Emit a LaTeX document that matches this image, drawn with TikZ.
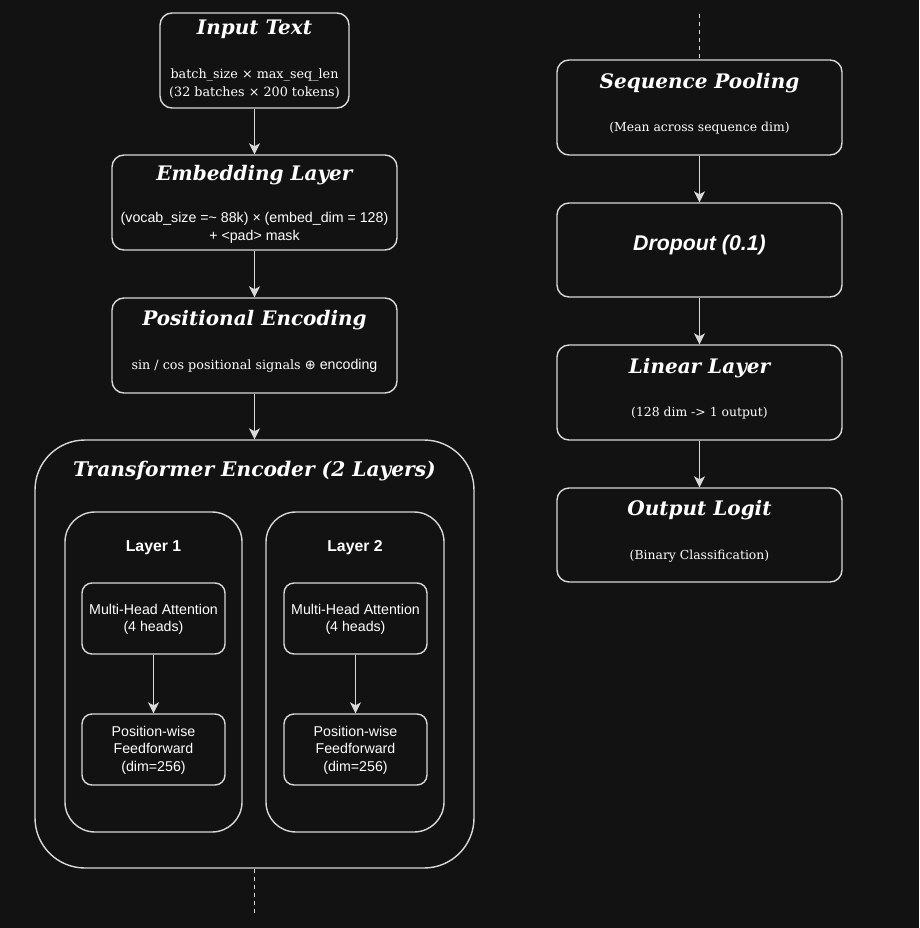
\documentclass[tikz,border=0pt]{standalone}
\usepackage{fontspec}
\setmainfont{DejaVu Serif}
\setsansfont{Liberation Sans}
\newfontfamily\symfont{DejaVu Sans}
\usetikzlibrary{arrows.meta}
\definecolor{bg}{HTML}{121212}
\definecolor{ln}{HTML}{D8D8D8}
\tikzset{
  box/.style={draw=ln, line width=1.4pt, rounded corners=12pt, fill=bg, inner sep=0pt},
  ttl/.style={text=white, inner sep=0pt, font=\fontsize{20}{24}\selectfont\bfseries\itshape},
  sub/.style={text=white, inner sep=0pt, align=center, font=\fontsize{12.75}{18}\selectfont},
  rsub/.style={text=white, inner sep=0pt, align=center, font=\fontsize{12.4}{15}\selectfont},
  ssub/.style={text=white, inner sep=0pt, align=center, font=\sffamily\fontsize{14.2}{17.5}\selectfont},
  lay/.style={text=white, inner sep=0pt, font=\sffamily\bfseries\fontsize{15.8}{18}\selectfont},
  arr/.style={draw=ln, line width=1.4pt, -{Stealth[length=11pt,width=11pt,inset=3pt]}},
  dsh/.style={draw=ln, line width=1.4pt, dash pattern=on 4pt off 4pt}
}
\begin{document}
\begin{tikzpicture}[x=1pt,y=-1pt]
\fill[bg] (0,0) rectangle (919,928);
\useasboundingbox (0,0) rectangle (919,928);
% left column
\node[box, minimum width=189pt, minimum height=95pt] (input) at (254.5,60.5) {};
\node[ttl] (inputT) at (254.5,29) {Input Text};
\node[sub] (inputS) at (254.5,84) {batch\_size × max\_seq\_len\\(32 batches × 200 tokens)};

\node[box, minimum width=285pt, minimum height=95pt] (emb) at (254.5,202.5) {};
\node[ttl] (embT) at (254.5,175) {Embedding Layer};
\node[ssub] (embS) at (254.5,228) {(vocab\_size =\textasciitilde{} 88k) × (embed\_dim = 128)\\+ <pad> mask};

\node[box, minimum width=285pt, minimum height=95pt] (pos) at (254.5,345.5) {};
\node[ttl] (posT) at (254.5,320) {Positional Encoding};
\node[sub] (posS) at (254.5,366) {sin / cos positional signals {\symfont\fontsize{13}{14}\selectfont ⊕} {\sffamily\fontsize{14.2}{17}\selectfont encoding}};

\node[box, rounded corners=50pt, minimum width=439pt, minimum height=428pt] (trans) at (254.5,654) {};
\node[ttl, font=\fontsize{20.2}{24}\selectfont\bfseries\itshape] (transT) at (254.5,471) {Transformer Encoder (2 Layers)};

\node[box, rounded corners=30pt, minimum width=177pt, minimum height=320pt] (l1) at (153.5,672) {};
\node[lay] (l1T) at (153.5,548) {Layer 1};
\node[box, rounded corners=10pt, minimum width=143pt, minimum height=71pt] (mha1) at (153.5,618.5) {};
\node[ssub] (mha1T) at (153.5,619.5) {Multi-Head Attention\\(4 heads)};
\node[box, rounded corners=10pt, minimum width=143pt, minimum height=71pt] (ff1) at (153.5,749.5) {};
\node[ssub] (ff1T) at (153.5,750) {Position-wise\\Feedforward\\(dim=256)};

\node[box, rounded corners=30pt, minimum width=178pt, minimum height=320pt] (l2) at (355,672) {};
\node[lay] (l2T) at (355,548) {Layer 2};
\node[box, rounded corners=10pt, minimum width=143pt, minimum height=71pt] (mha2) at (355.5,618.5) {};
\node[ssub] (mha2T) at (355.5,619.5) {Multi-Head Attention\\(4 heads)};
\node[box, rounded corners=10pt, minimum width=143pt, minimum height=71pt] (ff2) at (355.5,749.5) {};
\node[ssub] (ff2T) at (355.5,750) {Position-wise\\Feedforward\\(dim=256)};

\coordinate (tb) at (254.5,915);

% right column
\coordinate (rt) at (699.5,14);
\node[box, minimum width=285pt, minimum height=95pt] (seq) at (699.5,107.5) {};
\node[ttl] (seqT) at (699.5,83) {Sequence Pooling};
\node[rsub] (seqS) at (699.5,128) {(Mean across sequence dim)};

\node[box, minimum width=285pt, minimum height=94pt] (drop) at (699.5,250) {};
\node[ttl, font=\sffamily\bfseries\itshape\fontsize{21.3}{25}\selectfont] (dropT) at (699.5,245) {Dropout (0.1)};

\node[box, minimum width=285pt, minimum height=95pt] (lin) at (699.5,392.5) {};
\node[ttl] (linT) at (699.5,368) {Linear Layer};
\node[rsub] (linS) at (699.5,413) {(128 dim -> 1 output)};

\node[box, minimum width=285pt, minimum height=94pt] (out) at (699.5,535) {};
\node[ttl] (outT) at (699.5,510) {Output Logit};
\node[rsub] (outS) at (699.5,556) {(Binary Classification)};

% connectors
\draw[arr] (input) -- (emb);
\draw[arr] (emb) -- (pos);
\draw[arr] (pos) -- (trans);
\draw[arr] (mha1) -- (ff1);
\draw[arr] (mha2) -- (ff2);
\draw[dsh] (trans.south) -- (tb);
\draw[dsh] (rt) -- (seq.north);
\draw[arr] (seq) -- (drop);
\draw[arr] (drop) -- (lin);
\draw[arr] (lin) -- (out);
\end{tikzpicture}
\end{document}
